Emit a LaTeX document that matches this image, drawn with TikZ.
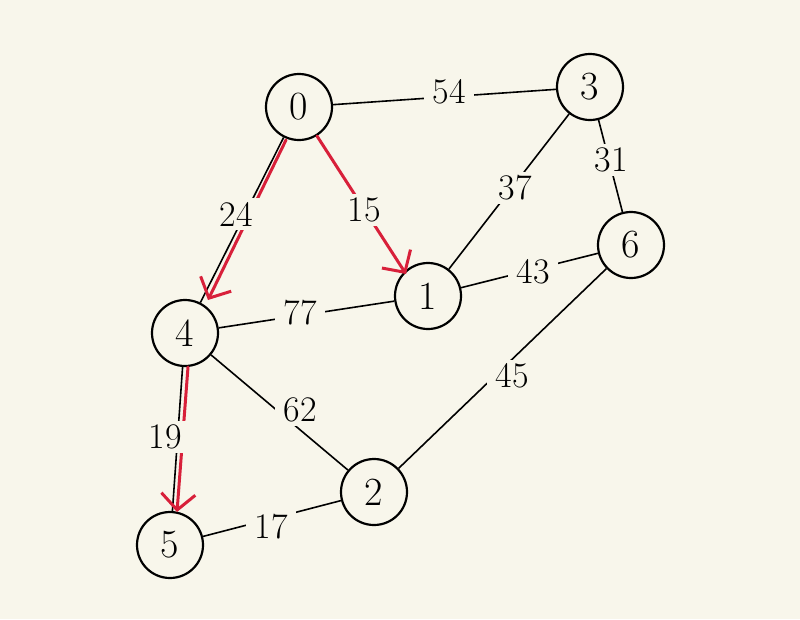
\documentclass[tikz,border=0pt]{standalone}
\usepackage{fontspec}
\usetikzlibrary{arrows.meta}
\definecolor{bg}{HTML}{F8F6EB}
\definecolor{rd}{HTML}{D8203A}
\begin{document}
\begin{tikzpicture}[x=1pt,y=-1pt,
  vtx/.style={circle,draw=black,line width=2.2pt,minimum size=66pt,inner sep=0pt,font=\fontsize{40}{40}\selectfont},
  edge/.style={draw=black,line width=1.6pt},
  wt/.style={fill=bg,inner xsep=8pt,inner ysep=4pt,font=\fontsize{36}{36}\selectfont},
  redarr/.style={draw=rd,line width=3pt,line cap=round,-{Straight Barb[length=16pt,width=34pt,line width=3pt]}}]
\fill[bg] (0,0) rectangle (800,619);
\useasboundingbox (0,0) rectangle (800,619);
\node[vtx] (n0) at (299,107) {0};
\node[vtx] (n3) at (590,87) {3};
\node[vtx] (n6) at (631,245) {6};
\node[vtx] (n1) at (428,296) {1};
\node[vtx] (n4) at (185,333) {4};
\node[vtx] (n2) at (374,492) {2};
\node[vtx] (n5) at (170,545) {5};
\draw[edge] (n0) -- (n3);
\draw[edge] (n3) -- (n1);
\draw[edge] (n3) -- (n6);
\draw[edge] (n1) -- (n6);
\draw[edge] (n4) -- (n1);
\draw[edge] (n6) -- (n2);
\draw[edge] (n4) -- (n2);
\draw[edge] (n4) -- (n5);
\draw[edge] (n5) -- (n2);
\draw[edge] (n0) -- (n4);
\coordinate (r0a) at (286,140);
\coordinate (r4a) at (208,300);
\coordinate (r0b) at (317,136);
\coordinate (r1b) at (406,274);
\coordinate (r4c) at (188,367);
\coordinate (r5c) at (177,512);
\draw[redarr] (r0a) -- (r4a);
\draw[redarr] (r0b) -- (r1b);
\draw[redarr] (r4c) -- (r5c);
\node[wt] (w03) at (449,92) {54};
\node[wt] (w31) at (515,188) {37};
\node[wt] (w36) at (611,160) {31};
\node[wt] (w16) at (533,272) {43};
\node[wt] (w41) at (300,313) {77};
\node[wt] (w62) at (300,410) {62};
\node[wt] (w62b) at (512,376) {45};
\node[wt] (w45) at (165,437) {19};
\node[wt] (w52) at (271,527) {17};
\node[wt] (w04) at (236,214) {24};
\node[wt] (w01) at (364,210) {15};
\end{tikzpicture}
\end{document}
